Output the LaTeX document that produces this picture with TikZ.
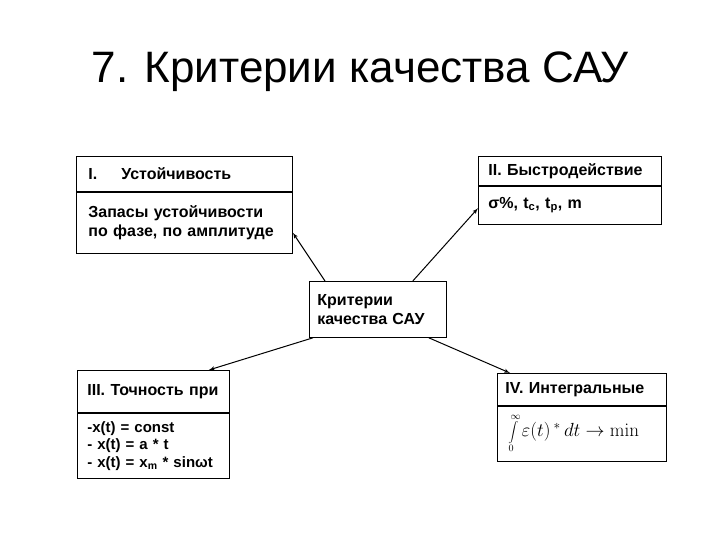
\documentclass[tikz,border=0pt]{standalone}
\usepackage{fix-cm}
\usepackage[no-math]{fontspec}
\setmainfont{Liberation Sans}
\usetikzlibrary{arrows}

\begin{document}
\begin{tikzpicture}[x=1pt,y=-1pt]
   \tikzstyle{line} = [draw, line width=1pt, -latex']
   \tikzstyle{box} = [draw, line width=0.8pt, anchor=north west, inner ysep=0pt, align=left, font=\fontsize{16}{18.5}\selectfont\bfseries]
   \useasboundingbox (0,0) rectangle (720,540);

   \node[anchor=base, font=\fontsize{44}{50}\selectfont] (title) at (360,83) {7. Критерии качества САУ};

   \node[box, text width=192pt, inner xsep=12pt, minimum height=35pt] (stab) at (76,156) {I.\hspace{24pt}Устойчивость};
   \node[box, text width=192pt, inner xsep=12pt, minimum height=61pt] (stabb) at (stab.south west) {Запасы устойчивости\\по фазе, по амплитуде};

   \node[box, text width=163pt, inner xsep=10pt, minimum height=29pt] (speed) at (478,156) {II. Быстродействие};
   \node[box, text width=163pt, inner xsep=10pt, minimum height=38pt] (speedb) at (speed.south west) {σ\%, t\textsubscript{с}, t\textsubscript{р}, m};

   \node[box, text width=121pt, inner xsep=8pt, minimum height=56pt] (crit) at (309,281) {Критерии\\качества САУ};

   \node[box, text width=132pt, inner xsep=10pt, minimum height=42pt] (acc) at (77,370) {III. Точность при};
   \node[box, text width=132pt, inner xsep=10pt, minimum height=65pt, font=\fontsize{15}{17.5}\selectfont\bfseries] (accb) at (acc.south west)
      {-x(t) = const\\- x(t) = a * t\\-~x(t)~=~x\textsubscript{m}~*~sinωt};

   \node[box, text width=153pt, inner xsep=8pt, minimum height=32pt] (integ) at (497,373) {IV. Интегральные};
   \node[box, text width=147pt, inner xsep=11pt, minimum height=55pt, font=\fontsize{19}{21}\selectfont] (integb) at (integ.south west)
      {{\fontsize{14}{17}\selectfont$\displaystyle\int\limits_0^\infty$}\,$\varepsilon(t)\,{}^*\,dt \to \min$};

   \path [line] ([xshift=16pt]crit.north west) -- ([yshift=-10pt]stabb.east);
   \path [line] ([xshift=-34pt]crit.north east) -- ([yshift=-3pt]speedb.west);
   \path [line] ([xshift=4pt]crit.south west) -- ([xshift=-21pt]acc.north east);
   \path [line] ([xshift=-18pt]crit.south east) -- ([xshift=13pt]integ.north west);
\end{tikzpicture}
\end{document}
